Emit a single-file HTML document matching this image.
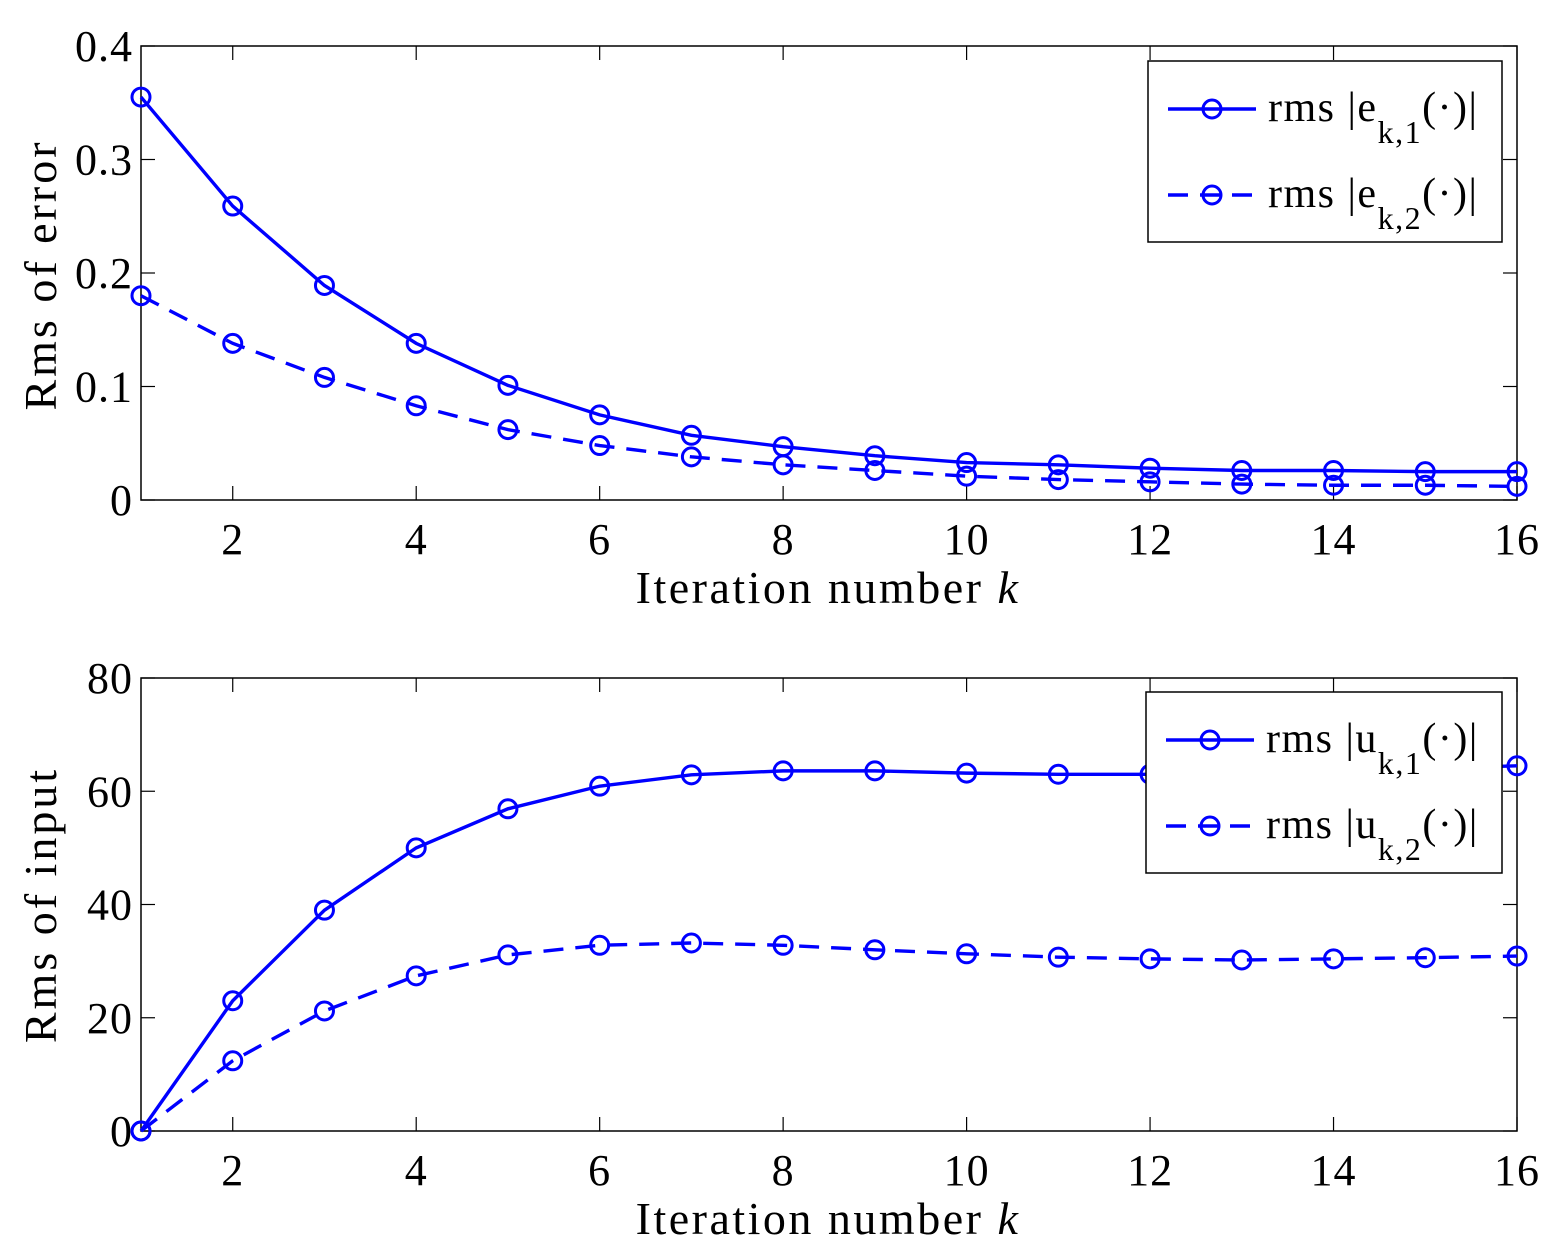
<!DOCTYPE html>
<html><head><meta charset="utf-8"><style>
body{margin:0;background:#fff}
svg{display:block}
text{font-family:"Liberation Serif",serif;fill:#000}
</style></head><body>
<svg id="c" width="1562" height="1256"></svg>
<script>
const kVals=[1,2,3,4,5,6,7,8,9,10,11,12,13,14,15,16];
const err1=[0.355,0.259,0.189,0.138,0.101,0.075,0.057,0.047,0.039,0.033,0.031,0.028,0.026,0.026,0.025,0.025];
const err2=[0.180,0.138,0.108,0.083,0.062,0.048,0.038,0.031,0.026,0.021,0.018,0.016,0.014,0.013,0.013,0.012];
const inp1=[0,23,39,50,56.9,60.9,62.9,63.6,63.6,63.2,63.0,63.0,63.2,63.6,64.0,64.5];
const inp2=[0,12.4,21.2,27.4,31.1,32.8,33.2,32.8,32.0,31.3,30.7,30.4,30.2,30.4,30.6,30.9];
const xTicks=[2,4,6,8,10,12,14,16];
const yTicksTop=[0,0.1,0.2,0.3,0.4];
const yTickLabelsTop=["0","0.1","0.2","0.3","0.4"];
const yTicksBot=[0,20,40,60,80];
const yTickLabelsBot=["0","20","40","60","80"];
const NS="http://www.w3.org/2000/svg";
const svg=document.getElementById('c');
function mk(t,a,p){const e=document.createElementNS(NS,t);for(const k in a)e.setAttribute(k,a[k]);(p||svg).appendChild(e);return e;}
function panel(name,top,bot,ymax,yT,yL,s1,s2,ytitle,ytitleY,leg,legTop,legText){
  const L=141,R=1517;
  const xs=k=>L+(k-1)/15*(R-L);
  const ys=v=>bot-v/ymax*(bot-top);
  const g=mk('g',{});
  
  
  const box=mk('rect',{x:L,y:top,width:R-L,height:bot-top,fill:'none',stroke:'#000','stroke-width':1.5},g);
  
  xTicks.forEach(k=>{
    mk('line',{x1:xs(k),x2:xs(k),y1:bot,y2:bot-14,stroke:'#000','stroke-width':1.2},g);
    mk('line',{x1:xs(k),x2:xs(k),y1:top,y2:top+14,stroke:'#000','stroke-width':1.2},g);
    const t=mk('text',{x:xs(k),y:bot+54,'text-anchor':'middle','font-size':44,'letter-spacing':1},g);t.textContent=k;
    
  });
  yT.forEach((v,i)=>{
    mk('line',{x1:L,x2:L+14,y1:ys(v),y2:ys(v),stroke:'#000','stroke-width':1.2},g);
    mk('line',{x1:R,x2:R-14,y1:ys(v),y2:ys(v),stroke:'#000','stroke-width':1.2},g);
    const t=mk('text',{x:L-8,y:ys(v)+15,'text-anchor':'end','font-size':44,'letter-spacing':1},g);t.textContent=yL[i];
    
  });
  [[s1,null],[s2,'20,12']].forEach(([s,d],si)=>{
    const pts=s.map((v,i)=>xs(kVals[i])+','+ys(v)).join(' ');
    const a={points:pts,fill:'none',stroke:'#0000ff','stroke-width':3.4};if(d)a['stroke-dasharray']=d;
    const pl=mk('polyline',a,g);
    
    s.forEach((v,i)=>{const c=mk('circle',{cx:xs(kVals[i]),cy:ys(v),r:9,fill:'none',stroke:'#0000ff','stroke-width':3},g);
      });
  });
  const xl=mk('text',{x:828,y:bot+103,'text-anchor':'middle','font-size':46,'letter-spacing':2.5},g);
  xl.innerHTML='Iteration number <tspan font-style="italic">k</tspan>';
  
  const yl=mk('text',{x:0,y:0,'text-anchor':'middle','font-size':46,'letter-spacing':3,transform:`translate(56,${ytitleY}) rotate(-90)`},g);
  yl.textContent=ytitle;
  const lg=mk('g',{},g);
  mk('rect',{x:leg,y:legTop,width:1502-leg,height:181,fill:'#fff',stroke:'#000','stroke-width':1.5},lg);
  [0,1].forEach(i=>{
    const cy=legTop+48+i*86;
    const a={x1:leg+20,x2:leg+108,y1:cy,y2:cy,stroke:'#0000ff','stroke-width':3.4};if(i)a['stroke-dasharray']='20,12';
    mk('line',a,lg);
    mk('circle',{cx:leg+64,cy:cy,r:9,fill:'none',stroke:'#0000ff','stroke-width':3},lg);
    const t=mk('text',{x:leg+120,y:cy+12,'font-size':42,'letter-spacing':1.5},lg);
    t.innerHTML=`rms |${legText}<tspan dy="22" font-size="32">k,${i+1}</tspan><tspan dy="-22">(·)|</tspan>`;
    
  });
}
panel('top-chart',46,500,0.4,yTicksTop,yTickLabelsTop,err1,err2,'Rms of error',275,1148,61,'e');
panel('bottom-chart',678,1131,80,yTicksBot,yTickLabelsBot,inp1,inp2,'Rms of input',905,1146,692,'u');
</script>
</body></html>
